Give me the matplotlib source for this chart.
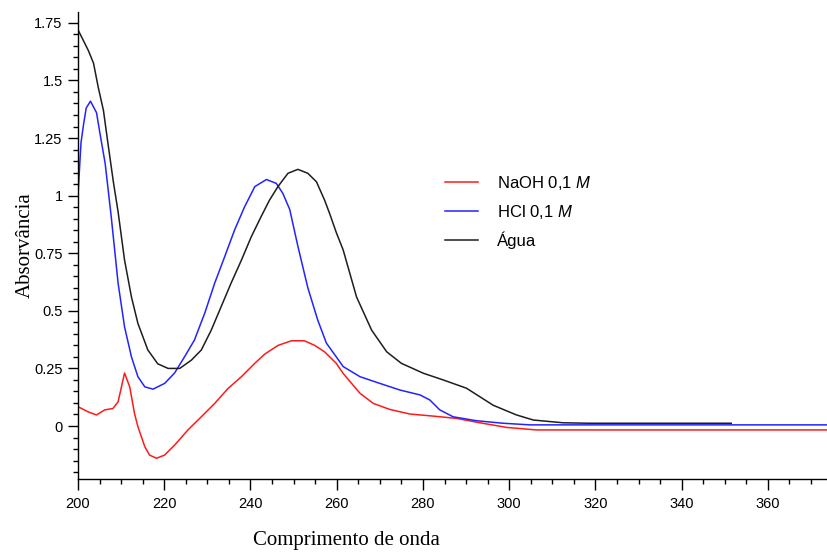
import numpy as np
import matplotlib
matplotlib.use('Agg')
import matplotlib.pyplot as plt
from matplotlib.ticker import MultipleLocator, FuncFormatter

plt.rcParams['font.family'] = 'Liberation Sans'
plt.rcParams['mathtext.fontset'] = 'custom'
plt.rcParams['mathtext.it'] = 'Liberation Sans:italic'
plt.rcParams['mathtext.rm'] = 'Liberation Sans'

# Agua (black)
agua_x = [200, 201.2, 202.4, 203.6, 204.7, 205.9, 207, 208.2, 209.3, 210.8, 212.4, 213.9,
          216.2, 218.5, 220.9, 223.6, 226.3, 228.6, 230.9, 233.2, 235.5, 237.9, 240.2, 242.5,
          244.4, 246.4, 248.7, 251, 253.3, 255.3, 257.2, 258.4, 259.9, 261.5, 264.6, 268.1,
          271.6, 275, 280.1, 284.7, 290.1, 296.3, 301.7, 305.6, 312.5, 318.7, 351.5]
agua_y = [1.72, 1.675, 1.63, 1.575, 1.47, 1.37, 1.22, 1.06, 0.93, 0.72, 0.56, 0.445,
          0.33, 0.27, 0.25, 0.25, 0.286, 0.33, 0.416, 0.518, 0.62, 0.72, 0.822, 0.91,
          0.98, 1.04, 1.097, 1.114, 1.097, 1.06, 0.98, 0.92, 0.84, 0.764, 0.56, 0.416,
          0.322, 0.272, 0.229, 0.2, 0.164, 0.09, 0.048, 0.026, 0.014, 0.012, 0.012]

# HCl 0,1 M (blue)
hcl_x = [200, 200.3, 200.7, 201.3, 201.9, 202.9, 204.3, 205.1, 206.3, 207.7, 209.3, 210.8,
         212.4, 213.9, 215.5, 217.4, 220.1, 222.4, 224.7, 227, 229.4, 231.7, 234, 236.3,
         238.6, 241, 243.7, 246, 247.5, 249.1, 251, 253.3, 255.6, 257.6, 259.9, 261.5,
         265.4, 270, 274.7, 279.3, 281.6, 283.9, 287, 292.4, 298.6, 304.8, 374]
hcl_y = [1.0, 1.1, 1.23, 1.31, 1.38, 1.41, 1.36, 1.27, 1.14, 0.91, 0.62, 0.43,
         0.30, 0.214, 0.17, 0.16, 0.185, 0.23, 0.30, 0.373, 0.49, 0.62, 0.734, 0.85,
         0.95, 1.039, 1.07, 1.053, 1.01, 0.94, 0.78, 0.60, 0.46, 0.36, 0.30, 0.258,
         0.214, 0.185, 0.156, 0.135, 0.113, 0.07, 0.04, 0.023, 0.012, 0.005, 0.005]

# NaOH 0,1 M (red)
naoh_x = [200, 202.3, 204.3, 206.2, 208.1, 209.3, 210.8, 212, 213.1, 213.9, 215.5, 216.6,
          218.2, 220.1, 222.4, 225.5, 228.6, 231.7, 234.8, 237.9, 241, 243.3, 246.4, 249.5,
          252.5, 254.9, 257.2, 259.9, 261.5, 265.4, 268.5, 272.3, 277, 282.4, 287.8, 293.2,
          299.4, 306.3, 374]
naoh_y = [0.084, 0.062, 0.048, 0.07, 0.076, 0.105, 0.23, 0.17, 0.055, -0.003, -0.09, -0.126,
          -0.14, -0.126, -0.083, -0.017, 0.04, 0.098, 0.163, 0.214, 0.272, 0.312, 0.35, 0.37,
          0.37, 0.35, 0.322, 0.272, 0.228, 0.142, 0.098, 0.072, 0.052, 0.043, 0.033, 0.014,
          -0.006, -0.017, -0.017]

fig = plt.figure(figsize=(8.27, 5.53), dpi=100)
ax = fig.add_axes([0.0943, 0.1338, 0.9057, 0.8445])

ax.plot(naoh_x, naoh_y, color='#ff1a1a', lw=1.1, label='NaOH 0,1 $\\mathit{M}$')
ax.plot(hcl_x, hcl_y, color='#2323ff', lw=1.1, label='HCl 0,1 $\\mathit{M}$')
ax.plot(agua_x, agua_y, color='#1e1e1e', lw=1.1, label='Água')

ax.set_xlim(200, 373.7)
ax.set_ylim(-0.23, 1.797)

ax.spines['top'].set_visible(False)
ax.spines['right'].set_visible(False)
for s in ('left', 'bottom'):
    ax.spines[s].set_linewidth(1.0)

ax.xaxis.set_major_locator(MultipleLocator(20))
ax.xaxis.set_minor_locator(MultipleLocator(5))
ax.yaxis.set_major_locator(MultipleLocator(0.25))
ax.yaxis.set_minor_locator(MultipleLocator(0.05))
ax.yaxis.set_major_formatter(FuncFormatter(lambda v, p: '%g' % round(v, 2)))
ax.tick_params(which='major', width=1, labelsize=10.5, direction='out')
ax.tick_params(axis='x', which='major', length=8, pad=5)
ax.tick_params(axis='y', which='major', length=7, pad=4)
ax.tick_params(which='minor', length=3.5, width=1, direction='out')

ax.set_xlabel('Comprimento de onda', family='Liberation Serif', fontsize=15)
ax.xaxis.label.set_va('center')
ax.xaxis.set_label_coords(346 / 749 - 78 / 749, -61 / 467)
ax.set_ylabel('Absorvância', family='Liberation Serif', fontsize=15)
ax.yaxis.label.set_va('center')
ax.yaxis.set_label_coords(-53 / 749, 0.5)

ax.legend(loc='upper left', bbox_to_anchor=(445 / 827, 1 - 174 / 553),
          bbox_transform=fig.transFigure, frameon=False, fontsize=12,
          handlelength=2.0, handletextpad=1.1, labelspacing=0.65,
          borderpad=0, borderaxespad=0)

fig.savefig('out.png', dpi=100)
